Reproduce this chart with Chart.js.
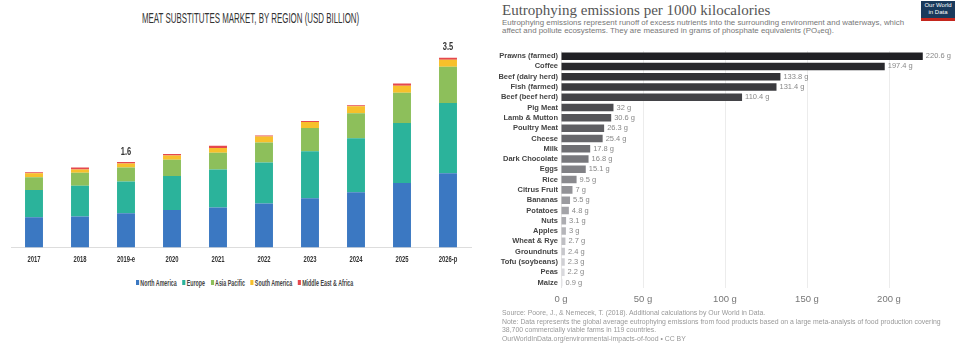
<!DOCTYPE html>
<html>
<head>
<meta charset="utf-8">
<script src="https://cdn.jsdelivr.net/npm/chart.js@4.4.1/dist/chart.umd.min.js"></script>
<style>
  body { margin: 0; background: #fff; }
  #page { position: relative; width: 955px; height: 345px; overflow: hidden; background: #fff; }
  .squeeze { position: absolute; white-space: nowrap; transform-origin: left top; font-family: "Liberation Sans Narrow", "Liberation Sans", sans-serif; }
  #leftTitle { top: 10px; font-size: 14px; color: #333; }
  #leftLegend { top: 278px; font-size: 8.5px; font-weight: bold; color: #444; }
  #leftLegend span.item { margin-right: 9px; }
  #leftLegend span.box { display: inline-block; width: 5px; height: 5px; margin-right: 2px; vertical-align: 1px; }
  #marketChart { position: absolute; left: 0; top: 0; }
  #foodChart { position: absolute; left: 490px; top: 0; }
  .owid { position: absolute; font-family: "Liberation Sans", Arial, sans-serif; white-space: nowrap; }
  #owidTitle { left: 502px; top: 3px; font: 15px/15px "Liberation Serif", Georgia, serif; color: #555; }
  #owidSub { left: 502px; top: 19px; font-size: 7.9px; line-height: 8px; color: #777; }
  #owidFoot { left: 502px; top: 309px; font-size: 6.9px; line-height: 8.5px; color: #999; }
  #logo { left: 921px; top: 1px; width: 34px; height: 16px; background: #1a3a5c; border-bottom: 3px solid #c4261d; color: #fff; font-size: 6px; line-height: 7px; text-align: center; padding-top: 1px; }
</style>
</head>
<body>
<div id="page">
  <div class="squeeze" id="leftTitle">MEAT SUBSTITUTES MARKET, BY REGION (USD BILLION)</div>
  <canvas id="marketChart" width="480" height="271"></canvas>
  <div class="squeeze" id="leftLegend"></div>

  <div class="owid" id="owidTitle">Eutrophying emissions per 1000 kilocalories</div>
  <div class="owid" id="owidSub">Eutrophying emissions represent runoff of excess nutrients into the surrounding environment and waterways, which<br>affect and pollute ecosystems. They are measured in grams of phosphate equivalents (PO₄eq).</div>
  <div class="owid" id="logo">Our World<br>in Data</div>
  <canvas id="foodChart" width="465" height="311"></canvas>
  <div class="owid" id="owidFoot">Source: Poore, J., &amp; Nemecek, T. (2018). Additional calculations by Our World in Data.<br>Note: Data represents the global average eutrophying emissions from food products based on a large meta-analysis of food production covering<br>38,700 commercially viable farms in 119 countries.<br>OurWorldInData.org/environmental-impacts-of-food • CC BY</div>
</div>

<script>
// --- left chart data (USD billion) ---
const years = ['2017', '2018', '2019-e', '2020', '2021', '2022', '2023', '2024', '2025', '2026-p'];
const northAmerica = [0.56, 0.57, 0.63, 0.69, 0.74, 0.81, 0.91, 1.02, 1.19, 1.37];
const europe = [0.50, 0.57, 0.59, 0.63, 0.70, 0.76, 0.87, 1.00, 1.11, 1.30];
const asiaPacific = [0.24, 0.24, 0.26, 0.30, 0.31, 0.37, 0.43, 0.46, 0.56, 0.67];
const southAmerica = [0.07, 0.06, 0.07, 0.08, 0.09, 0.11, 0.11, 0.13, 0.13, 0.13];
const middleEastAfrica = [0.02, 0.04, 0.03, 0.03, 0.04, 0.02, 0.02, 0.02, 0.04, 0.04];
const totalLabels = ['', '', '1.6', '', '', '', '', '', '', '3.5'];

// --- right chart data (g PO4eq per 1000 kcal) ---
const foods = ['Prawns (farmed)', 'Coffee', 'Beef (dairy herd)', 'Fish (farmed)', 'Beef (beef herd)', 'Pig Meat',
  'Lamb & Mutton', 'Poultry Meat', 'Cheese', 'Milk', 'Dark Chocolate', 'Eggs', 'Rice', 'Citrus Fruit', 'Bananas',
  'Potatoes', 'Nuts', 'Apples', 'Wheat & Rye', 'Groundnuts', 'Tofu (soybeans)', 'Peas', 'Maize'];
const emissions = [220.6, 197.4, 133.8, 131.4, 110.4, 32, 30.6, 26.3, 25.4, 17.8, 16.8, 15.1, 9.5, 7, 5.5,
  4.8, 3.1, 3, 2.7, 2.4, 2.3, 2.2, 0.9];
const emissionTicks = [0, 50, 100, 150, 200];

const narrow = '"Liberation Sans Narrow", "Liberation Sans", sans-serif';
const sans = '"Liberation Sans", Arial, sans-serif';

// the left picture is squashed sideways, so text there is squeezed to fit
function squeeze(el, width, centre) {
  el.style.transform = 'scaleX(' + (width / el.offsetWidth) + ')';
  el.style.left = (centre - width / 2) + 'px';
}

// text drawn on the canvas, squeezed the same way
function squeezedText(ctx, text, x, y, sx) {
  ctx.save();
  ctx.translate(x, y);
  ctx.scale(sx, 1);
  ctx.fillText(text, 0, 0);
  ctx.restore();
}

const marketDatasets = [
  { label: 'North America', data: northAmerica, backgroundColor: '#3b78c2' },
  { label: 'Europe', data: europe, backgroundColor: '#2bb39b' },
  { label: 'Asia Pacific', data: asiaPacific, backgroundColor: '#8dbf5b' },
  { label: 'South America', data: southAmerica, backgroundColor: '#f7c02b' },
  { label: 'Middle East & Africa', data: middleEastAfrica, backgroundColor: '#e5484d' }
];

const marketLabels = {
  id: 'marketLabels',
  afterDraw(chart) {
    const ctx = chart.ctx;
    const xs = chart.scales.x;
    const meta = chart.getDatasetMeta(chart.data.datasets.length - 1);
    ctx.save();
    ctx.fillStyle = '#333';
    ctx.textAlign = 'center';
    ctx.textBaseline = 'middle';
    ctx.font = 'bold 9px ' + narrow;
    years.forEach((y, i) => {
      squeezedText(ctx, y, xs.getPixelForTick(i), chart.chartArea.bottom + 12, 0.65);
    });
    ctx.font = 'bold 10px ' + narrow;
    ctx.textBaseline = 'bottom';
    totalLabels.forEach((t, i) => {
      if (!t) return;
      squeezedText(ctx, t, meta.data[i].x, meta.data[i].y - 5, 0.75);
    });
    ctx.restore();
  }
};

new Chart(document.getElementById('marketChart'), {
  type: 'bar',
  data: { labels: years, datasets: marketDatasets },
  options: {
    responsive: false,
    animation: false,
    barPercentage: 0.39,
    categoryPercentage: 1,
    layout: { padding: { top: 42, left: 11, right: 9, bottom: 0 } },
    plugins: { legend: { display: false }, tooltip: { enabled: false } },
    scales: {
      x: {
        stacked: true,
        grid: { display: false, drawTicks: false },
        border: { display: true, color: '#ddd' },
        ticks: { color: 'rgba(0,0,0,0)', padding: 7, font: { family: narrow, size: 8 } }
      },
      y: { stacked: true, display: false, min: 0, max: 3.8 }
    }
  },
  plugins: [marketLabels]
});

const legendEl = document.getElementById('leftLegend');
legendEl.innerHTML = marketDatasets.map(d =>
  '<span class="item"><span class="box" style="background:' + d.backgroundColor + '"></span>' + d.label.replace('&', '&amp;') + '</span>'
).join('');
squeeze(document.getElementById('leftTitle'), 217, 250);
squeeze(legendEl, 223, 247);

// value labels at bar ends
const valuePlugin = {
  id: 'values',
  afterDatasetsDraw(chart) {
    const ctx = chart.ctx;
    const meta = chart.getDatasetMeta(0);
    ctx.save();
    ctx.font = '7.5px ' + sans;
    ctx.fillStyle = '#888';
    ctx.textBaseline = 'middle';
    meta.data.forEach((bar, i) => {
      ctx.fillText(emissions[i] + ' g', bar.x + 3, bar.y);
    });
    ctx.restore();
  }
};

const n = foods.length;
const barColors = foods.map((f, i) => {
  const c = Math.round(0x20 + (0xe2 - 0x20) * i / (n - 1));
  return 'rgb(' + c + ',' + c + ',' + (c + 4) + ')';
});

new Chart(document.getElementById('foodChart'), {
  type: 'bar',
  data: {
    labels: foods,
    datasets: [{ data: emissions, backgroundColor: barColors }]
  },
  options: {
    indexAxis: 'y',
    responsive: false,
    animation: false,
    barPercentage: 0.73,
    categoryPercentage: 1,
    layout: { padding: { top: 51, left: 0, right: 25, bottom: 0 } },
    plugins: { legend: { display: false }, tooltip: { enabled: false } },
    scales: {
      x: {
        min: 0, max: 225,
        grid: { color: '#ececec', drawTicks: false },
        border: { display: false },
        afterBuildTicks(scale) { scale.ticks = emissionTicks.map(v => ({ value: v })); },
        ticks: { color: '#777', padding: 6, font: { family: sans, size: 9.5 }, callback: v => v + ' g' }
      },
      y: {
        grid: { display: false, drawTicks: false },
        border: { display: true, color: '#e4e4e4' },
        afterFit(scale) { scale.width = 71; },
        ticks: { color: '#444', padding: 3, autoSkip: false, font: { family: sans, size: 7.5, weight: 'bold' } }
      }
    }
  },
  plugins: [valuePlugin]
});
</script>
</body>
</html>
